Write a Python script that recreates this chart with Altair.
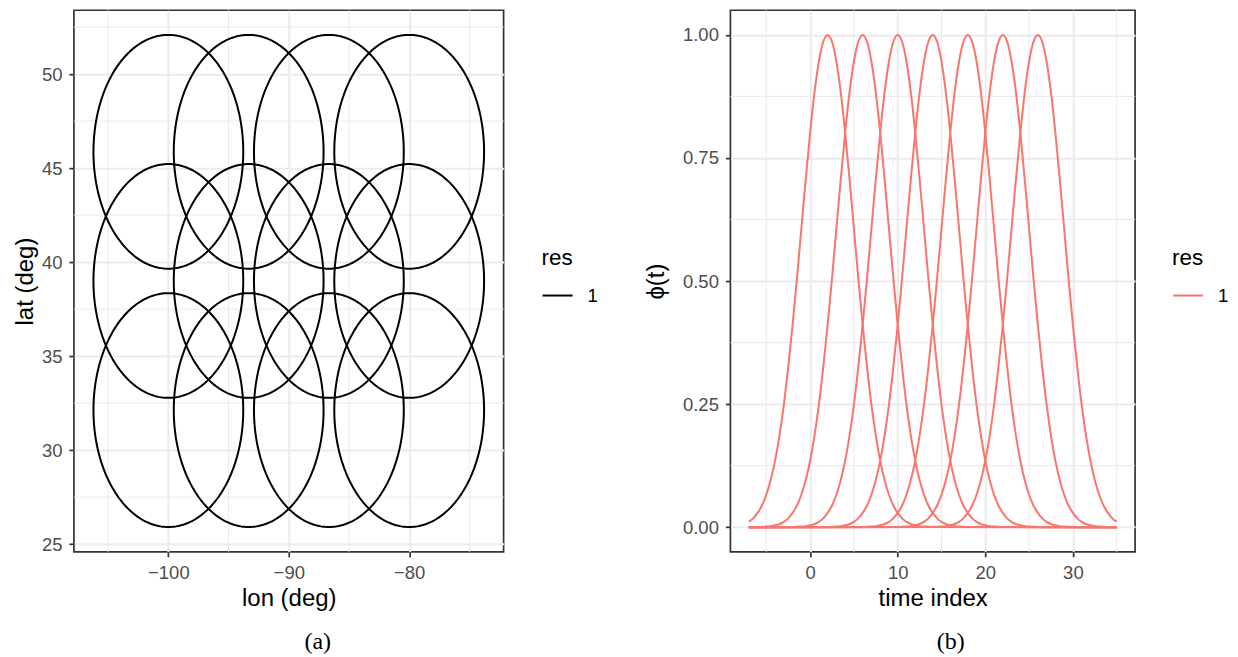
import altair as alt
import numpy as np
import pandas as pd

# ---------------- data ----------------
# (a) spatial basis functions: centres (deg) and common radius (deg)
lon_centres = [-100.0, -93.33, -86.67, -80.0]
lat_centres = [32.13, 39.0, 45.87]
radius_deg = 6.22

lon_major = [-100, -90, -80]
lon_minor = [-105, -95, -85, -75]
lat_major = [25, 30, 35, 40, 45, 50]
lat_minor = [27.5, 32.5, 37.5, 42.5, 47.5, 52.5]

# (b) temporal basis functions: centres, plotted range, and shape profile
t_centres = [2, 6, 10, 14, 18, 22, 26]
t_range = [-7, 35]
profile_offset = [0, 0.5, 1, 1.5, 2, 2.5, 3, 3.5, 4, 4.5, 5, 5.5, 6, 6.5, 7,
                  7.5, 8, 8.5, 9, 9.5, 10, 10.5, 11, 12]
profile_value = [1.0, 0.986, 0.946, 0.883, 0.801, 0.707, 0.607, 0.506, 0.411,
                 0.325, 0.249, 0.186, 0.135, 0.096, 0.066, 0.044, 0.029,
                 0.018, 0.011, 0.0066, 0.0039, 0.0022, 0.0012, 0.0003]

t_major = [0, 10, 20, 30]
t_minor = [-5, 5, 15, 25, 35]
phi_major = [0, 0.25, 0.5, 0.75, 1.0]
phi_minor = [0.125, 0.375, 0.625, 0.875]

res_level = ["1"]

# ---------------- build tables ----------------
ang = np.linspace(0, 2 * np.pi, 241)
rows = []
cid = 0
for la in lat_centres:
    for lo in lon_centres:
        for k, a in enumerate(ang):
            rows.append({"id": cid, "k": k,
                         "lon": lo + radius_deg * np.cos(a),
                         "lat": la + radius_deg * np.sin(a),
                         "res": res_level[0]})
        cid += 1
circ = pd.DataFrame(rows)

prof = dict(zip(profile_offset, profile_value))
trows = []
for j, c in enumerate(t_centres):
    pts = {}
    for d, v in prof.items():
        for s in (-1, 1):
            t = c + s * d
            if t_range[0] <= t <= t_range[1]:
                pts[t] = v
    for t in t_range:
        if t not in pts:
            pts[t] = prof.get(abs(t - c), 0.0)
    for t in sorted(pts):
        trows.append({"id": j, "t": t, "phi": pts[t], "res": res_level[0]})
tdf = pd.DataFrame(trows)

SANS = "Liberation Sans"
SERIF = "Liberation Serif"
GRID = "#EBEBEB"
LW = 2.0

def axis(values, title, fmt=None, tpad=6):
    kw = dict(values=values, title=title, grid=True, gridColor=GRID, gridWidth=2,
              domain=False, ticks=True, tickSize=5, tickColor="#333333", tickWidth=1.7,
              labelColor="#4D4D4D", labelFontSize=18.5, labelFont=SANS, labelPadding=7,
              titleFont=SANS, titleFontSize=24, titleColor="black",
              titleFontWeight="normal", titlePadding=tpad)
    if fmt:
        kw["format"] = fmt
    return alt.Axis(**kw)

def legend(x, y):
    return alt.Legend(title="res", orient="none", legendX=x, legendY=y,
                      titleFont=SANS, titleFontSize=22.5, titleFontWeight="normal",
                      titleColor="black", titlePadding=10,
                      labelFont=SANS, labelFontSize=18.5, labelColor="black",
                      labelOffset=14, symbolType="stroke", symbolSize=900,
                      symbolStrokeWidth=LW, padding=0)

CAP = dict(orient="bottom", font=SERIF, fontSize=24, fontWeight="normal",
           color="black", anchor="middle", frame="group", offset=20)

# ---------------- panel (a) ----------------
W1, H1 = 430, 542
xs1 = alt.Scale(domain=[-107.84, -72.16], nice=False, zero=False)
ys1 = alt.Scale(domain=[24.59, 53.4], nice=False, zero=False)
xa1 = axis(lon_major, "lon (deg)", tpad=4)
ya1 = axis(lat_major, "lat (deg)", tpad=4)

minor_v1 = alt.Chart(pd.DataFrame({"lon": lon_minor})).mark_rule(
    color=GRID, strokeWidth=1).encode(x=alt.X("lon:Q", scale=xs1, axis=xa1))
minor_h1 = alt.Chart(pd.DataFrame({"lat": lat_minor})).mark_rule(
    color=GRID, strokeWidth=1).encode(y=alt.Y("lat:Q", scale=ys1, axis=ya1))
circles = alt.Chart(circ).mark_line(strokeWidth=LW).encode(
    x=alt.X("lon:Q", scale=xs1, axis=xa1),
    y=alt.Y("lat:Q", scale=ys1, axis=ya1),
    detail="id:N",
    order="k:Q",
    color=alt.Color("res:N", scale=alt.Scale(domain=res_level, range=["black"]),
                    legend=legend(W1 + 38, 237)),
)
left = alt.layer(minor_v1, minor_h1, circles).properties(
    width=W1, height=H1,
    title=alt.TitleParams("(a)", dx=29, **CAP))

# ---------------- panel (b) ----------------
W2, H2 = 405, 542
xs2 = alt.Scale(domain=[-9.1, 37.1], nice=False, zero=False)
ys2 = alt.Scale(domain=[-0.05, 1.05], nice=False, zero=False)
xa2 = axis(t_major, "time index", tpad=4)
ya2 = axis(phi_major, "ϕ(t)", fmt=".2f", tpad=14)

minor_v2 = alt.Chart(pd.DataFrame({"t": t_minor})).mark_rule(
    color=GRID, strokeWidth=1).encode(x=alt.X("t:Q", scale=xs2, axis=xa2))
minor_h2 = alt.Chart(pd.DataFrame({"phi": phi_minor})).mark_rule(
    color=GRID, strokeWidth=1).encode(y=alt.Y("phi:Q", scale=ys2, axis=ya2))
curves = alt.Chart(tdf).mark_line(strokeWidth=LW, interpolate="monotone").encode(
    x=alt.X("t:Q", scale=xs2, axis=xa2),
    y=alt.Y("phi:Q", scale=ys2, axis=ya2),
    detail="id:N",
    order="t:Q",
    color=alt.Color("res:N", scale=alt.Scale(domain=res_level, range=["#F8766D"]),
                    legend=legend(W2 + 37, 237)),
)
right = alt.layer(minor_v2, minor_h2, curves).properties(
    width=W2, height=H2,
    title=alt.TitleParams("(b)", dx=18, **CAP))

chart = alt.hconcat(left, right, spacing=44).resolve_scale(
    color="independent", x="independent", y="independent"
).properties(
    padding={"left": 4, "top": 0, "right": 0, "bottom": 0},
    background="white",
).configure_view(stroke="#333333", strokeWidth=1.7)

chart.save("out.html", embed_options={"renderer": "svg", "actions": False})
